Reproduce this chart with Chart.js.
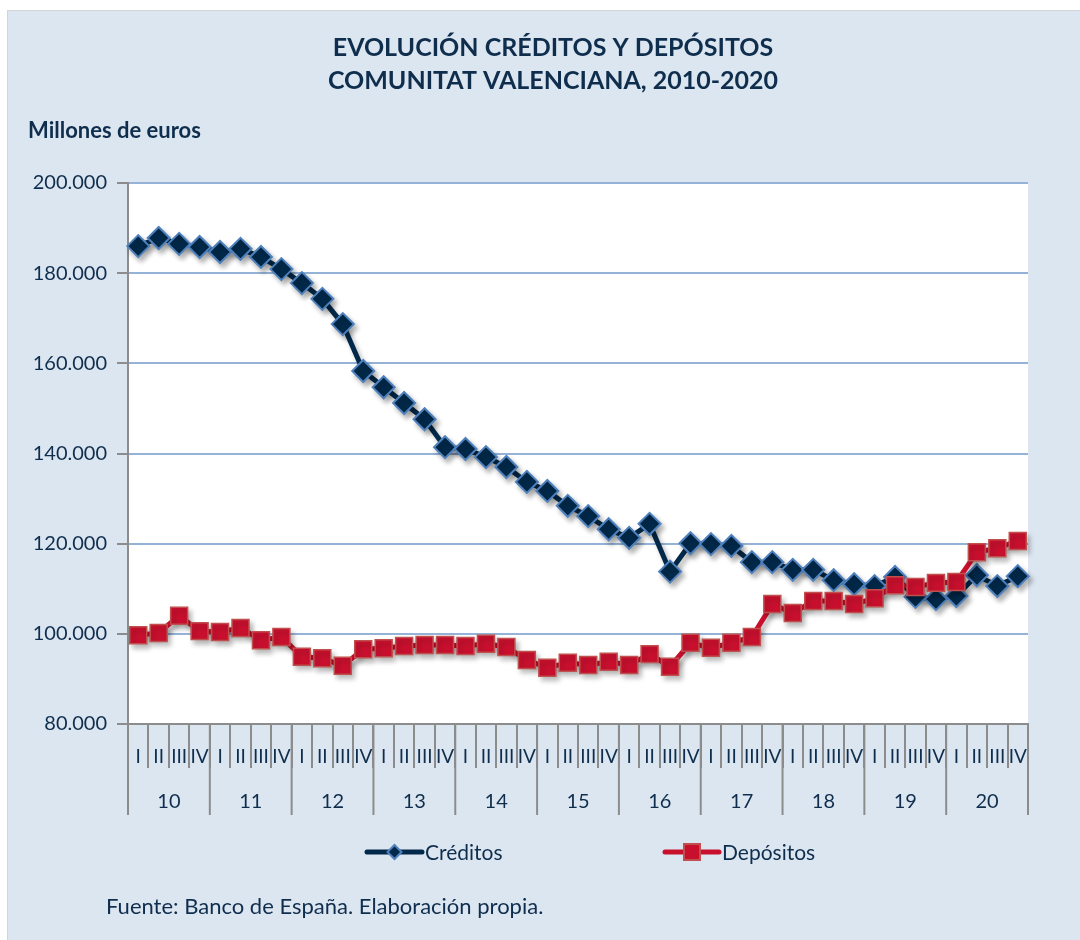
<!DOCTYPE html>
<html>
<head>
<meta charset="utf-8">
<script src="https://cdn.jsdelivr.net/npm/chart.js@4/dist/chart.umd.min.js"></script>
<style>
	body { margin: 0; background: #ffffff; }
	#caja { width: 1080px; height: 940px; }
</style>
</head>
<body>
<div id="caja"><canvas id="grafico" width="1080" height="940"></canvas></div>
<script>
// datos (millones de euros, trimestres 2010-2020)
var anios = ["10", "11", "12", "13", "14", "15", "16", "17", "18", "19", "20"];
var trimestres = ["I", "II", "III", "IV"];
var creditos = [
	186000, 187800, 186500, 185800, 184700, 185400, 183600, 180900, 177800, 174300, 168700,
	158300, 154700, 151200, 147600, 141400, 141000, 139200, 137000, 133700, 131700, 128400,
	126100, 123200, 121300, 124400, 113800, 120100, 119900, 119500, 115900, 115900, 114200,
	114200, 111900, 111000, 110600, 112600, 108200, 107700, 108400, 113000, 110600, 112800
];
var depositos = [
	99700, 100200, 104000, 100600, 100400, 101300, 98600, 99300, 94900, 94600, 92900,
	96600, 96800, 97300, 97500, 97500, 97300, 97800, 97100, 94200, 92500, 93600,
	93100, 93800, 93100, 95500, 92700, 98000, 96900, 98000, 99300, 106600, 104600,
	107300, 107300, 106600, 107900, 110800, 110400, 111300, 111500, 118100, 119000, 120600
];
var eje_y_min = 80000;
var eje_y_max = 200000;
var eje_y_paso = 20000;

var etiquetas = [];
anios.forEach(function (a) {
	trimestres.forEach(function (t) {
		etiquetas.push(t + "-" + a);
	});
});

var azul_texto = "#0F2E4D";
var gris_eje = "#8C8C8C";
var fuente = "Lato, 'Open Sans', sans-serif";

// fondo, textos y eje de dos niveles
var plugin_extras = {
	id: "extras",
	beforeDraw: function (chart) {
		var ctx = chart.ctx;
		var area = chart.chartArea;
		ctx.save();
		ctx.fillStyle = "#ffffff";
		ctx.fillRect(0, 0, chart.width, chart.height);
		ctx.fillStyle = "#DCE6F1";
		ctx.fillRect(8, 11, chart.width - 8, chart.height - 11);
		ctx.strokeStyle = "#D4D4D4";
		ctx.lineWidth = 1;
		ctx.strokeRect(7.5, 10.5, chart.width, chart.height);
		ctx.fillStyle = "#ffffff";
		ctx.fillRect(area.left, area.top, area.right - area.left, area.bottom - area.top);
		ctx.restore();
	},
	beforeDatasetsDraw: function (chart) {
		chart.ctx.save();
		chart.ctx.shadowColor = "rgba(0, 0, 0, 0.28)";
		chart.ctx.shadowBlur = 5;
		chart.ctx.shadowOffsetX = 3;
		chart.ctx.shadowOffsetY = 4;
	},
	afterDatasetsDraw: function (chart) {
		chart.ctx.restore();
	},
	afterDraw: function (chart) {
		var ctx = chart.ctx;
		var area = chart.chartArea;
		var x = chart.scales.x;
		ctx.save();
		ctx.fillStyle = azul_texto;
		ctx.textAlign = "center";
		ctx.textBaseline = "middle";

		// titulo
		ctx.font = "bold 25px " + fuente;
		ctx.fillText("EVOLUCIÓN CRÉDITOS Y DEPÓSITOS", 553, 48);
		ctx.fillText("COMUNITAT VALENCIANA, 2010-2020", 553, 81);

		ctx.textAlign = "left";
		ctx.font = "bold 22px " + fuente;
		ctx.fillText("Millones de euros", 28, 131);

		// trimestres
		ctx.textAlign = "center";
		ctx.font = "19px " + fuente;
		for (var i = 0; i < etiquetas.length; i++) {
			ctx.fillText(trimestres[i % 4], x.getPixelForValue(i), 757);
		}

		// separadores y etiquetas de año
		ctx.strokeStyle = gris_eje;
		ctx.lineWidth = 2;
		ctx.font = "20px " + fuente;
		for (var j = 0; j <= anios.length; j++) {
			var k = j * 4;
			var px;
			if (k === 0) px = area.left;
			else if (k >= etiquetas.length) px = area.right;
			else px = (x.getPixelForValue(k - 1) + x.getPixelForValue(k)) / 2;
			ctx.beginPath();
			ctx.moveTo(px, area.bottom);
			ctx.lineTo(px, 815);
			ctx.stroke();
			if (j < anios.length) {
				var centro = (x.getPixelForValue(k + 1) + x.getPixelForValue(k + 2)) / 2;
				ctx.fillText(anios[j], centro, 802);
			}
		}

		// leyenda
		var series = chart.data.datasets;
		var leyenda = [
			{ ds: series[1], x0: 367, x1: 422, texto: "Créditos", tx: 425 },
			{ ds: series[0], x0: 665, x1: 719, texto: "Depósitos", tx: 722 }
		];
		ctx.textAlign = "left";
		ctx.font = "21px " + fuente;
		leyenda.forEach(function (l) {
			var y = 852;
			var cx = (l.x0 + l.x1) / 2;
			ctx.strokeStyle = l.ds.borderColor;
			ctx.lineWidth = 5;
			ctx.lineCap = "round";
			ctx.beginPath();
			ctx.moveTo(l.x0, y);
			ctx.lineTo(l.x1, y);
			ctx.stroke();
			ctx.fillStyle = l.ds.pointBackgroundColor;
			ctx.strokeStyle = l.ds.pointBorderColor;
			ctx.lineWidth = 2;
			ctx.beginPath();
			if (l.ds.pointStyle === "rectRot") {
				ctx.moveTo(cx, y - 7);
				ctx.lineTo(cx + 7, y);
				ctx.lineTo(cx, y + 7);
				ctx.lineTo(cx - 7, y);
				ctx.closePath();
			} else {
				ctx.rect(cx - 8, y - 8, 16, 16);
			}
			ctx.fill();
			ctx.stroke();
			ctx.fillStyle = azul_texto;
			ctx.fillText(l.texto, l.tx, y + 1);
		});

		// fuente
		ctx.font = "22px " + fuente;
		ctx.fillText("Fuente: Banco de España. Elaboración propia.", 106, 907);
		ctx.restore();
	}
};

new Chart(document.getElementById("grafico"), {
	type: "line",
	data: {
		labels: etiquetas,
		datasets: [
			{
				label: "Depósitos",
				data: depositos,
				order: 0,
				borderColor: "#C8102E",
				borderWidth: 5,
				tension: 0,
				pointStyle: "rect",
				pointRadius: 12,
				pointBackgroundColor: "#C8102E",
				pointBorderColor: "#C0504D",
				pointBorderWidth: 1.5,
			},
			{
				label: "Créditos",
				data: creditos,
				order: 1,
				borderColor: "#02294A",
				borderWidth: 5,
				tension: 0,
				pointStyle: "rectRot",
				pointRadius: 11,
				pointBackgroundColor: "#02294A",
				pointBorderColor: "#4F81BD",
				pointBorderWidth: 2,
			},
		],
	},
	options: {
		responsive: false,
		animation: false,
		events: [],
		layout: {
			padding: { top: 183, left: 0, right: 52, bottom: 0 },
		},
		plugins: {
			legend: { display: false },
			title: { display: false },
			tooltip: { enabled: false },
		},
		scales: {
			x: {
				offset: true,
				grid: {
					offset: true,
					drawOnChartArea: false,
					drawTicks: true,
					tickLength: 44,
					color: gris_eje,
					lineWidth: 2,
				},
				border: { color: gris_eje, width: 2 },
				ticks: { display: false, autoSkip: false },
				afterFit: function (scale) {
					scale.height = 216;
				},
			},
			y: {
				min: eje_y_min,
				max: eje_y_max,
				grid: {
					color: "#95B3D7",
					lineWidth: 2,
					tickColor: gris_eje,
					tickLength: 11,
				},
				border: { color: gris_eje, width: 2 },
				ticks: {
					stepSize: eje_y_paso,
					padding: 10,
					color: azul_texto,
					font: { family: fuente, size: 20 },
					callback: function (v) {
						return v / 1000 + ".000";
					},
				},
				afterFit: function (scale) {
					scale.width = 128;
				},
			},
		},
	},
	plugins: [plugin_extras],
});
</script>
</body>
</html>
